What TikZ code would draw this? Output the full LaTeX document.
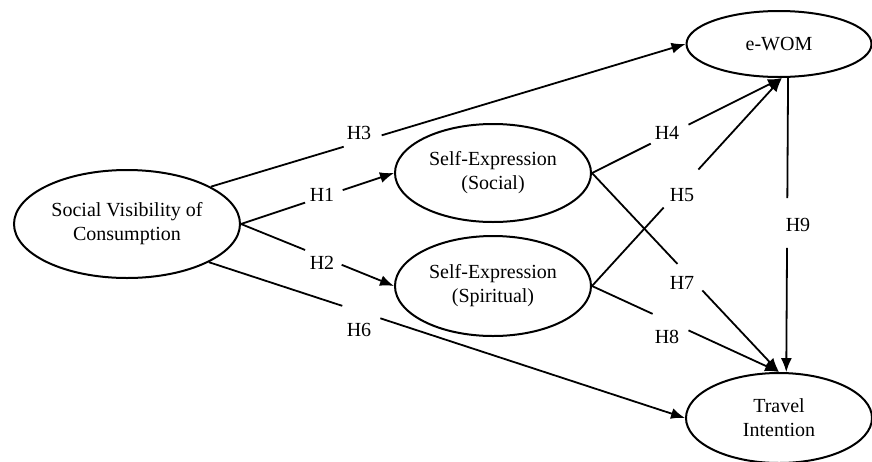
\documentclass[tikz,border=0pt]{standalone}
\usepackage{fontspec}
\setmainfont{Liberation Serif}
\usetikzlibrary{shapes.geometric,arrows.meta,calc}

\begin{document}
\begin{tikzpicture}[x=1pt,y=-1pt,
  construct/.style={draw,ellipse,line width=2pt,inner sep=0pt,align=center,
    font=\fontsize{20}{24}\selectfont},
  hyp/.style={inner sep=0pt,font=\fontsize{20}{24}\selectfont},
  link/.style={line width=1.8pt},
  >={Latex[length=14pt,width=11pt]}]
\useasboundingbox (0,0) rectangle (872,461);

% constructs
\node[construct,minimum width=226,minimum height=108] (svc) at (127,224) {Social Visibility of\\Consumption};
\node[construct,minimum width=196,minimum height=98] (sesoc) at (493,173) {Self-Expression\\(Social)};
\node[construct,minimum width=196,minimum height=100] (sespi) at (493,286) {Self-Expression\\(Spiritual)};
\node[construct,minimum width=185,minimum height=66] (ewom) at (779,44) {e-WOM};
\node[construct,minimum width=186,minimum height=90] (travel) at (779,418) {Travel\\Intention};

% hypotheses
\node[hyp] (h1) at (322,195) {H1};
\node[hyp] (h2) at (322,263) {H2};
\node[hyp] (h3) at (359,133) {H3};
\node[hyp] (h4) at (667,133) {H4};
\node[hyp] (h5) at (682,195) {H5};
\node[hyp] (h6) at (359,330) {H6};
\node[hyp] (h7) at (682,283) {H7};
\node[hyp] (h8) at (667,337) {H8};
\node[hyp] (h9) at (798,225) {H9};

% paths, broken where the label sits
\foreach \from/\to/\s/\e in {svc.east/sesoc.west/0.419/0.665,
  svc.east/sespi.west/0.419/0.658,
  svc.24/ewom.west/0.28/0.36,
  sesoc.east/ewom.-85/0.309/0.508,
  sespi.east/ewom.-85/0.377/0.56,
  svc.-25/travel.west/0.28/0.36,
  sesoc.east/travel.north/0.457/0.59,
  sespi.east/travel.north/0.324/0.516,
  ewom.-75/travel.81/0.409/0.578} {
  \draw[link] (\from) -- ($(\from)!\s!(\to)$);
  \draw[link,->] ($(\from)!\e!(\to)$) -- (\to);
}
\end{tikzpicture}
\end{document}
